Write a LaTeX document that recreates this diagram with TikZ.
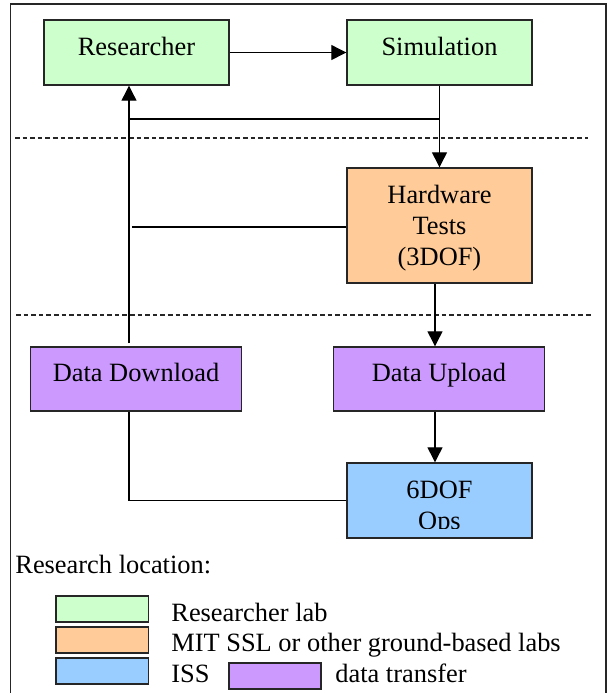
\documentclass[tikz,border=0pt]{standalone}
\usepackage{fontspec}
\setmainfont{Liberation Serif}
\usetikzlibrary{arrows.meta}
\definecolor{labgreen}{HTML}{CCFFCC}
\definecolor{laborange}{HTML}{FFCC99}
\definecolor{issblue}{HTML}{99CCFF}
\definecolor{xferpurple}{HTML}{CC99FF}
\definecolor{edgegray}{HTML}{262626}
\begin{document}
\begin{tikzpicture}[x=0.5pt,y=-0.5pt,
  font=\fontsize{13.2pt}{15.5pt}\selectfont,
  box/.style={draw=edgegray, line width=0.7pt, inner sep=0pt, align=center},
  onebox/.style={box, text height=9pt, text depth=6.5pt},
  conn/.style={line width=0.6pt, draw=black},
  arr/.style={conn, -{Triangle[length=7.5pt,width=7.5pt]}},
  sepline/.style={line width=0.55pt, draw=black!85, dash pattern=on 2.3pt off 1.5pt},
  legbox/.style={draw=edgegray, line width=0.7pt, inner sep=0pt, minimum width=46.25pt, minimum height=13pt},
  txt/.style={inner sep=0pt, anchor=base west}]
\useasboundingbox (0,0) rectangle (613,693);
% outer frame
\draw[line width=0.9pt, draw=edgegray] (10.5,700) -- (10.5,4) -- (606,4) -- (606,700);
% separators
\draw[sepline] (15,138) -- (588,138);
\draw[sepline] (16,315) -- (592,315);
% boxes
\node[onebox, fill=labgreen, minimum width=92.5pt, minimum height=32.5pt] (res) at (136.5,52.5) {Researcher};
\node[onebox, fill=labgreen, minimum width=92.5pt, minimum height=32.5pt] (sim) at (439.5,52.5) {Simulation};
\node[box, fill=laborange, minimum width=92.5pt, minimum height=57.5pt] (hw) at (439.5,225.5) {\rule{0pt}{11.8pt}Hardware\\Tests\\(3DOF)};
\node[onebox, fill=xferpurple, minimum width=105.5pt, minimum height=32pt] (dd) at (136,379) {Data Download};
\node[onebox, fill=xferpurple, minimum width=105.5pt, minimum height=32pt] (du) at (439,379) {Data Upload};
\node[box, fill=issblue, minimum width=92.5pt, minimum height=37.5pt] (ops) at (439.5,500.5) {};
\begin{scope}
  \clip (347,463) rectangle (532,528.5);
  \node[inner sep=0pt, align=center] (opstext) at (439.5,508) {6DOF\\Ops};
\end{scope}
% helper coordinates
\coordinate (lx) at (129,0);
\coordinate (rx) at (435,0);
\coordinate (j1) at (439.5,119);
\coordinate (upstart) at (129,343);
\coordinate (hwend) at (132,227);
% connectors
\draw[arr] (res.east) -- (sim.west);
\draw[arr] (sim.south) -- (hw.north);
\draw[conn] (j1) -- (j1 -| lx);
\draw[arr] (upstart) -- (upstart |- res.south);
\draw[conn] (hwend) -- (hwend -| hw.west);
\draw[arr] (hw.south -| rx) -- (du.north -| rx);
\draw[arr] (du.south -| rx) -- (ops.north -| rx);
\draw[conn] (dd.south -| lx) |- (ops.west);
% legend
\node[txt] (loc) at (15,573) {Research location:};
\node[legbox, fill=labgreen] (lg) at (102.25,609) {};
\node[legbox, fill=laborange] (lo) at (102.25,640) {};
\node[legbox, fill=issblue] (lb) at (102.25,671) {};
\node[legbox, fill=xferpurple, minimum width=46pt] (lp) at (275,676) {};
\node[txt] (tg) at (171,621) {Researcher lab};
\node[txt] (to) at (171,651) {MIT SSL or other ground-based labs};
\node[txt] (tb) at (171,682) {ISS};
\node[txt] (tp) at (335,682) {data transfer};
\end{tikzpicture}
\end{document}
